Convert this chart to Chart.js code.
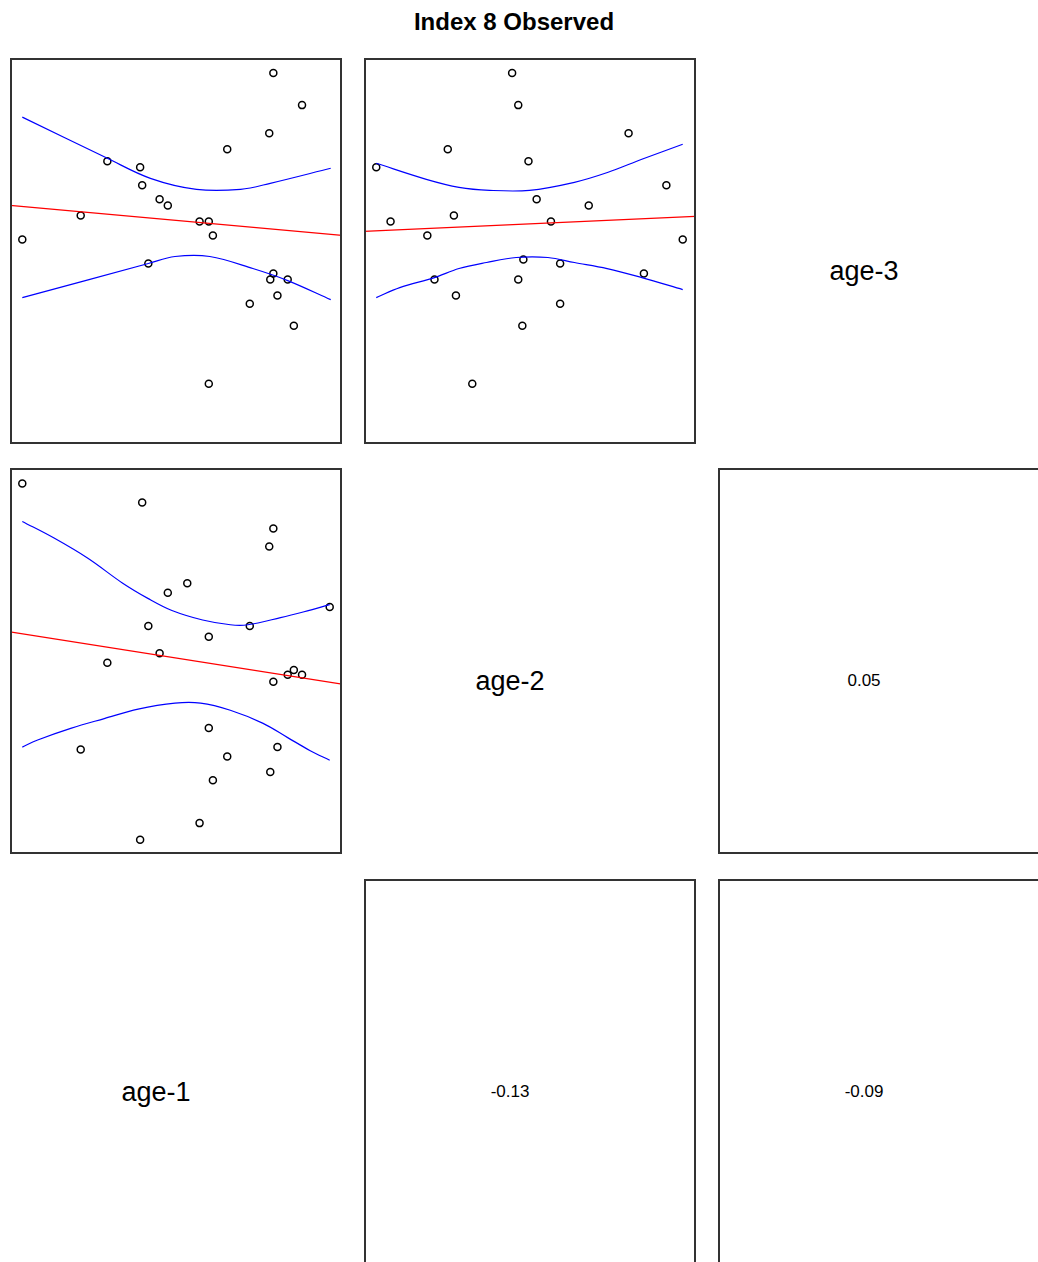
<!DOCTYPE html>
<html>
<head>
<meta charset="utf-8">
<script src="https://cdn.jsdelivr.net/npm/chart.js@4/dist/chart.umd.min.js"></script>
<style>
  html, body { margin: 0; padding: 0; background: #fff; width: 1038px; height: 1262px; overflow: hidden; }
  body { position: relative; font-family: "Liberation Sans", Arial, sans-serif; }
  canvas.panel { position: absolute; }
  .box { position: absolute; border: 2px solid #333; box-sizing: border-box; }
  .txt { position: absolute; transform: translate(-50%, -50%); white-space: nowrap; color: #000; }
  #title { position: absolute; left: 514px; top: 22px; transform: translate(-50%, -50%); font-weight: bold; font-size: 24px; white-space: nowrap; }
</style>
</head>
<body>
<div id="title">Index 8 Observed</div>
<script>
// ---- data (one entry per observation; null = missing) ----
const varNames = ["age-1", "age-2", "age-3"];
const age1 = [null, 0.95, 1.23, 0.91, 0.50, -0.67, -0.35, -0.33, -0.16, -0.08, -0.93, 0.23, 0.32, 0.36, -1.50, -0.27, 0.95, 0.92, 1.09, 0.99, 0.72, 1.15, 0.32, 0.11, 1.50];
const age2 = [-0.06, -0.17, -0.11, 0.97, -0.80, -0.01, -1.50, 1.34, 0.07, 0.58, -0.74, -1.36, 0.21, -1.00, 1.50, 0.30, 1.12, -0.93, -0.11, -0.72, 0.30, -0.07, -0.56, 0.66, 0.46];
const age3 = [-0.09, 1.77, 1.45, 1.17, 1.01, 0.89, 0.83, 0.65, 0.51, 0.45, 0.35, 0.29, 0.29, 0.15, 0.11, -0.13, -0.23, -0.29, -0.29, -0.45, -0.53, -0.75, -1.33, null, null];

// correlations shown in the lower panels
const corr12 = "-0.13";
const corr13 = "-0.09";
const corr23 = "0.05";

// fitted lines (value at the two panel edges)
const fitEdgeX = [-1.62, 1.62];
const fit31 = [0.45, 0.15];   // age-3 on age-1
const fit32 = [0.19, 0.34];   // age-3 on age-2
const fit21 = [0.25, -0.19];  // age-2 on age-1

// confidence bands
const band31X = [-1.50, -0.67, -0.25, 0.20, 0.63, 0.92, 1.51];
const band31Up = [1.33, 0.92, 0.72, 0.61, 0.61, 0.67, 0.82];
const band31LoX = [-1.50, -0.27, -0.01, 0.33, 0.75, 1.09, 1.51];
const band31Lo = [-0.47, -0.13, -0.06, -0.06, -0.18, -0.30, -0.49];

const band32UpX = [-1.50, -1.01, -0.69, -0.39, 0.00, 0.44, 0.77, 1.10, 1.50];
const band32Up = [0.87, 0.71, 0.63, 0.60, 0.60, 0.68, 0.78, 0.91, 1.06];
const band32LoX = [-1.50, -1.27, -0.93, -0.69, -0.42, -0.13, 0.18, 0.44, 0.76, 1.10, 1.50];
const band32Lo = [-0.47, -0.37, -0.27, -0.18, -0.12, -0.07, -0.07, -0.12, -0.18, -0.27, -0.39];

const band21UpX = [-1.50, -1.19, -0.86, -0.52, -0.27, -0.04, 0.26, 0.53, 0.70, 1.02, 1.25, 1.50];
const band21Up = [1.18, 1.04, 0.87, 0.66, 0.53, 0.43, 0.35, 0.31, 0.31, 0.37, 0.42, 0.48];
const band21LoX = [-1.50, -1.35, -1.02, -0.70, -0.37, -0.01, 0.24, 0.53, 0.85, 1.09, 1.31, 1.50];
const band21Lo = [-0.72, -0.66, -0.56, -0.48, -0.40, -0.35, -0.35, -0.41, -0.52, -0.64, -0.75, -0.83];

// ---- layout ----
const panelW = 332, panelH = 386;
const colLeft = [10, 364, 718];
const rowTop = [58, 468, 879];

function pairs(xs, ys) {
  const out = [];
  for (let i = 0; i < xs.length; i++) {
    if (xs[i] !== null && ys[i] !== null) out.push({ x: xs[i], y: ys[i] });
  }
  return out;
}
function zipXY(xs, ys) { return xs.map((x, i) => ({ x: x, y: ys[i] })); }

const borderPlugin = {
  id: 'panelBorder',
  afterDraw(chart) {
    const a = chart.chartArea, ctx = chart.ctx;
    ctx.save();
    ctx.strokeStyle = '#333';
    ctx.lineWidth = 2;
    ctx.strokeRect(a.left + 1, a.top + 1, a.width - 2, a.height - 2);
    ctx.restore();
  }
};

function makePanel(col, row, xs, ys, fit, bUpX, bUp, bLoX, bLo, xr, yr) {
  const c = document.createElement('canvas');
  c.className = 'panel';
  c.width = panelW; c.height = panelH;
  c.style.left = colLeft[col] + 'px';
  c.style.top = rowTop[row] + 'px';
  c.style.width = panelW + 'px'; c.style.height = panelH + 'px';
  document.body.appendChild(c);
  const lineDs = (data, color, t) => ({
    data: data, showLine: true, borderColor: color, borderWidth: 1.2,
    pointRadius: 0, fill: false, tension: t
  });
  new Chart(c, {
    type: 'scatter',
    data: {
      datasets: [
        lineDs(zipXY(fitEdgeX, fit), '#ff0000', 0),
        lineDs(zipXY(bUpX, bUp), '#0000ff', 0.35),
        lineDs(zipXY(bLoX, bLo), '#0000ff', 0.35),
        {
          data: pairs(xs, ys), showLine: false,
          pointStyle: 'circle', pointRadius: 3.5, pointBorderWidth: 1.5,
          pointBorderColor: '#000', pointBackgroundColor: 'rgba(0,0,0,0)'
        }
      ]
    },
    options: {
      responsive: false, animation: false, devicePixelRatio: 1,
      layout: { padding: 0, autoPadding: false },
      plugins: { legend: { display: false }, tooltip: { enabled: false }, title: { display: false } },
      scales: {
        x: { type: 'linear', display: false, min: xr[0], max: xr[1] },
        y: { type: 'linear', display: false, min: yr[0], max: yr[1] }
      }
    },
    plugins: [borderPlugin]
  });
}

const r1 = [-1.62, 1.62], r2 = [-1.62, 1.63], r3 = [-1.93, 1.92];
// top-left: age-3 vs age-1
makePanel(0, 0, age1, age3, fit31, band31X, band31Up, band31LoX, band31Lo, r1, r3);
// top-middle: age-3 vs age-2
makePanel(1, 0, age2, age3, fit32, band32UpX, band32Up, band32LoX, band32Lo, r2, r3);
// middle-left: age-2 vs age-1
makePanel(0, 1, age1, age2, fit21, band21UpX, band21Up, band21LoX, band21Lo, r1, r2);

function addBox(col, row) {
  const d = document.createElement('div');
  d.className = 'box';
  d.style.left = colLeft[col] + 'px'; d.style.top = rowTop[row] + 'px';
  d.style.width = panelW + 'px'; d.style.height = panelH + 'px';
  document.body.appendChild(d);
}
function addText(col, row, text, size) {
  const d = document.createElement('div');
  d.className = 'txt';
  d.textContent = text;
  d.style.fontSize = size + 'px';
  d.style.left = (colLeft[col] + 146) + 'px';
  d.style.top = (rowTop[row] + 213) + 'px';
  document.body.appendChild(d);
}
addText(2, 0, varNames[2], 27);
addText(1, 1, varNames[1], 27);
addText(0, 2, varNames[0], 27);
addBox(2, 1); addText(2, 1, corr23, 17);
addBox(1, 2); addText(1, 2, corr12, 17);
addBox(2, 2); addText(2, 2, corr13, 17);
</script>
</body>
</html>
